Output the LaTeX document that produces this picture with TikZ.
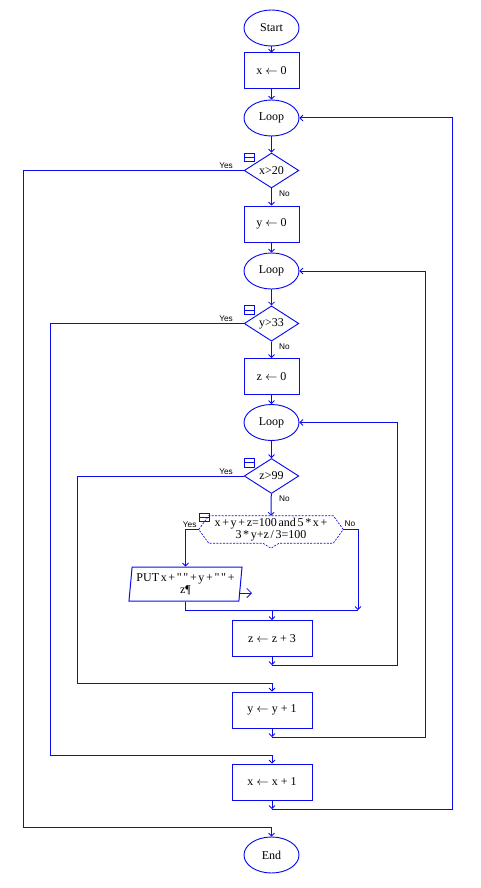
\documentclass[tikz,border=0pt]{standalone}
\usepackage{fontspec}
\setmainfont{Liberation Serif}[Ligatures=TeXOff]
\newfontfamily\ynfont{Liberation Sans}
\usetikzlibrary{shapes.geometric,arrows.meta}

\definecolor{flowblue}{RGB}{10,10,240}

\tikzset{
  line/.style={draw=flowblue,line width=0.75pt},
  flow/.style={line,-{Straight Barb[length=2.2pt,width=4.5pt,line width=0.6pt]}},
  txt/.style={font=\fontsize{9}{10}\selectfont},
  tighttxt/.style={txt,execute at begin node={\spaceskip=0.14em\relax}},
  term/.style={ellipse,draw=flowblue,line width=0.7pt,minimum width=41.25pt,minimum height=27pt,inner sep=0pt,txt},
  act/.style={rectangle,draw=flowblue,line width=0.75pt,minimum width=41.25pt,minimum height=27pt,inner sep=0pt,txt},
  wideact/.style={act,minimum width=60pt},
  cond/.style={diamond,draw=flowblue,line width=0.7pt,minimum width=41pt,minimum height=26.25pt,inner sep=0pt,txt},
  outbox/.style={trapezium,trapezium left angle=83,trapezium right angle=97,trapezium stretches=true,draw=flowblue,line width=0.75pt,minimum width=85.5pt,minimum height=25.5pt,inner sep=1pt,align=center,tighttxt},
  fold/.style={rectangle,draw=flowblue,line width=0.6pt,minimum width=7.5pt,minimum height=6.5pt,inner sep=0pt,
    path picture={\draw[flowblue,line width=0.6pt] (path picture bounding box.west) -- (path picture bounding box.east);}},
  yn/.style={font=\ynfont\fontsize{6.2}{7}\selectfont,inner sep=0pt},
}

\begin{document}
\begin{tikzpicture}[x=0.75pt,y=-0.75pt]
  \useasboundingbox (0,0) rectangle (480,888);

  % main column
  \node[term] (start) at (271.5,28) {Start};
  \node[act] (x0) at (271.5,71) {x $\leftarrow$ 0};
  \node[term] (loopA) at (271.5,118) {Loop};
  \node[cond] (condx) at (271.5,170.5) {x>20};
  \node[act] (y0) at (271.5,224) {y $\leftarrow$ 0};
  \node[term] (loopB) at (271.5,271) {Loop};
  \node[cond] (condy) at (271.5,323.5) {y>33};
  \node[act] (z0) at (271.5,376.5) {z $\leftarrow$ 0};
  \node[term] (loopC) at (271.5,422.5) {Loop};
  \node[cond] (condz) at (271.5,476) {z>99};
  \node[minimum width=108pt,minimum height=20.25pt,inner sep=0pt,align=center,tighttxt] (test) at (271,529.5)
    {x + y + z=100 and 5 * x +\\[-1pt]3 * y+z / 3=100};
  \node[outbox] (put) at (185.5,584) {PUT x + " " + y + " " +\\[-1pt]z¶};
  \node[wideact] (zc3) at (272,638.5) {z $\leftarrow$ z + 3};
  \node[wideact] (yc1) at (272,710) {y $\leftarrow$ y + 1};
  \node[wideact] (xc1) at (272,782) {x $\leftarrow$ x + 1};
  \node[term] (stop) at (271.5,855) {End};

  % hexagon of the inner test
  \draw[draw=flowblue,line width=0.5pt,dash pattern=on 1.5pt off 1pt]
    (test.west) -- ([xshift=7.5pt]test.north west) -- ([xshift=-7.5pt]test.north east) -- (test.east)
    -- ([xshift=-7.5pt]test.south east) -- ([xshift=6pt]test.south) -- ([yshift=-3.75pt]test.south)
    -- ([xshift=-6pt]test.south) -- ([xshift=7.5pt]test.south west) -- cycle;

  % output mark
  \draw[line,-{Straight Barb[length=3.5pt,width=7pt,line width=0.6pt]}] (238.5,593) -- (252,593);

  % fold marks
  \node[fold,anchor=north west] (foldx) at (condx.west |- condx.north) {};
  \node[fold,anchor=north west] (foldy) at (condy.west |- condy.north) {};
  \node[fold,anchor=north west] (foldz) at (condz.west |- condz.north) {};
  \node[fold,anchor=north west] (foldt) at ([yshift=2.25pt]test.west |- test.north) {};

  % helper points
  \coordinate (joinR) at (358,610);
  \coordinate (joinM) at (272,610);
  \coordinate (endC) at (272,665);
  \coordinate (backC) at (397,665);
  \coordinate (yesC) at (77,683);
  \coordinate (endB) at (272,737);
  \coordinate (backB) at (425,737);
  \coordinate (yesB) at (50,755);
  \coordinate (endA) at (272,809);
  \coordinate (backA) at (452,809);
  \coordinate (yesA) at (23,827);

  % straight flow
  \draw[flow] (start) -- (x0);
  \draw[flow] (x0) -- (loopA);
  \draw[flow] (loopA) -- (condx);
  \draw[flow] (condx) -- (y0);
  \draw[flow] (y0) -- (loopB);
  \draw[flow] (loopB) -- (condy);
  \draw[flow] (condy) -- (z0);
  \draw[flow] (z0) -- (loopC);
  \draw[flow] (loopC) -- (condz);
  \draw[flow] (condz) -- (test.north);

  % inner test branches
  \draw[flow] (test.west) -| (put.north);
  \draw[flow] (test.east) -| (joinR);
  \draw[line] (put.south) |- (joinR);
  \draw[flow] (joinM) -- (zc3.north);

  % loop backs
  \draw[flow] (zc3.south) -- (endC);
  \draw[flow] (endC) -- (backC) |- (loopC.east);
  \draw[flow] (condz.west) -| (yesC) -| (yc1.north);
  \draw[flow] (yc1.south) -- (endB);
  \draw[flow] (endB) -- (backB) |- (loopB.east);
  \draw[flow] (condy.west) -| (yesB) -| (xc1.north);
  \draw[flow] (xc1.south) -- (endA);
  \draw[flow] (endA) -- (backA) |- (loopA.east);
  \draw[flow] (condx.west) -| (yesA) -| (stop.north);

  % branch labels
  \node[yn,anchor=south east] at ([xshift=-8pt,yshift=1pt]condx.west) {Yes};
  \node[yn,anchor=south east] at ([xshift=-8pt,yshift=1pt]condy.west) {Yes};
  \node[yn,anchor=south east] at ([xshift=-8pt,yshift=1pt]condz.west) {Yes};
  \node[yn,anchor=south east] at ([xshift=-1.5pt,yshift=1.5pt]test.west) {Yes};
  \node[yn,anchor=north west] at ([xshift=5.6pt,yshift=-1.2pt]condx.south) {No};
  \node[yn,anchor=north west] at ([xshift=5.6pt,yshift=-1.2pt]condy.south) {No};
  \node[yn,anchor=north west] at ([xshift=5.6pt,yshift=-1.2pt]condz.south) {No};
  \node[yn,anchor=south west] at ([xshift=0.75pt,yshift=2.25pt]test.east) {No};

\end{tikzpicture}
\end{document}
